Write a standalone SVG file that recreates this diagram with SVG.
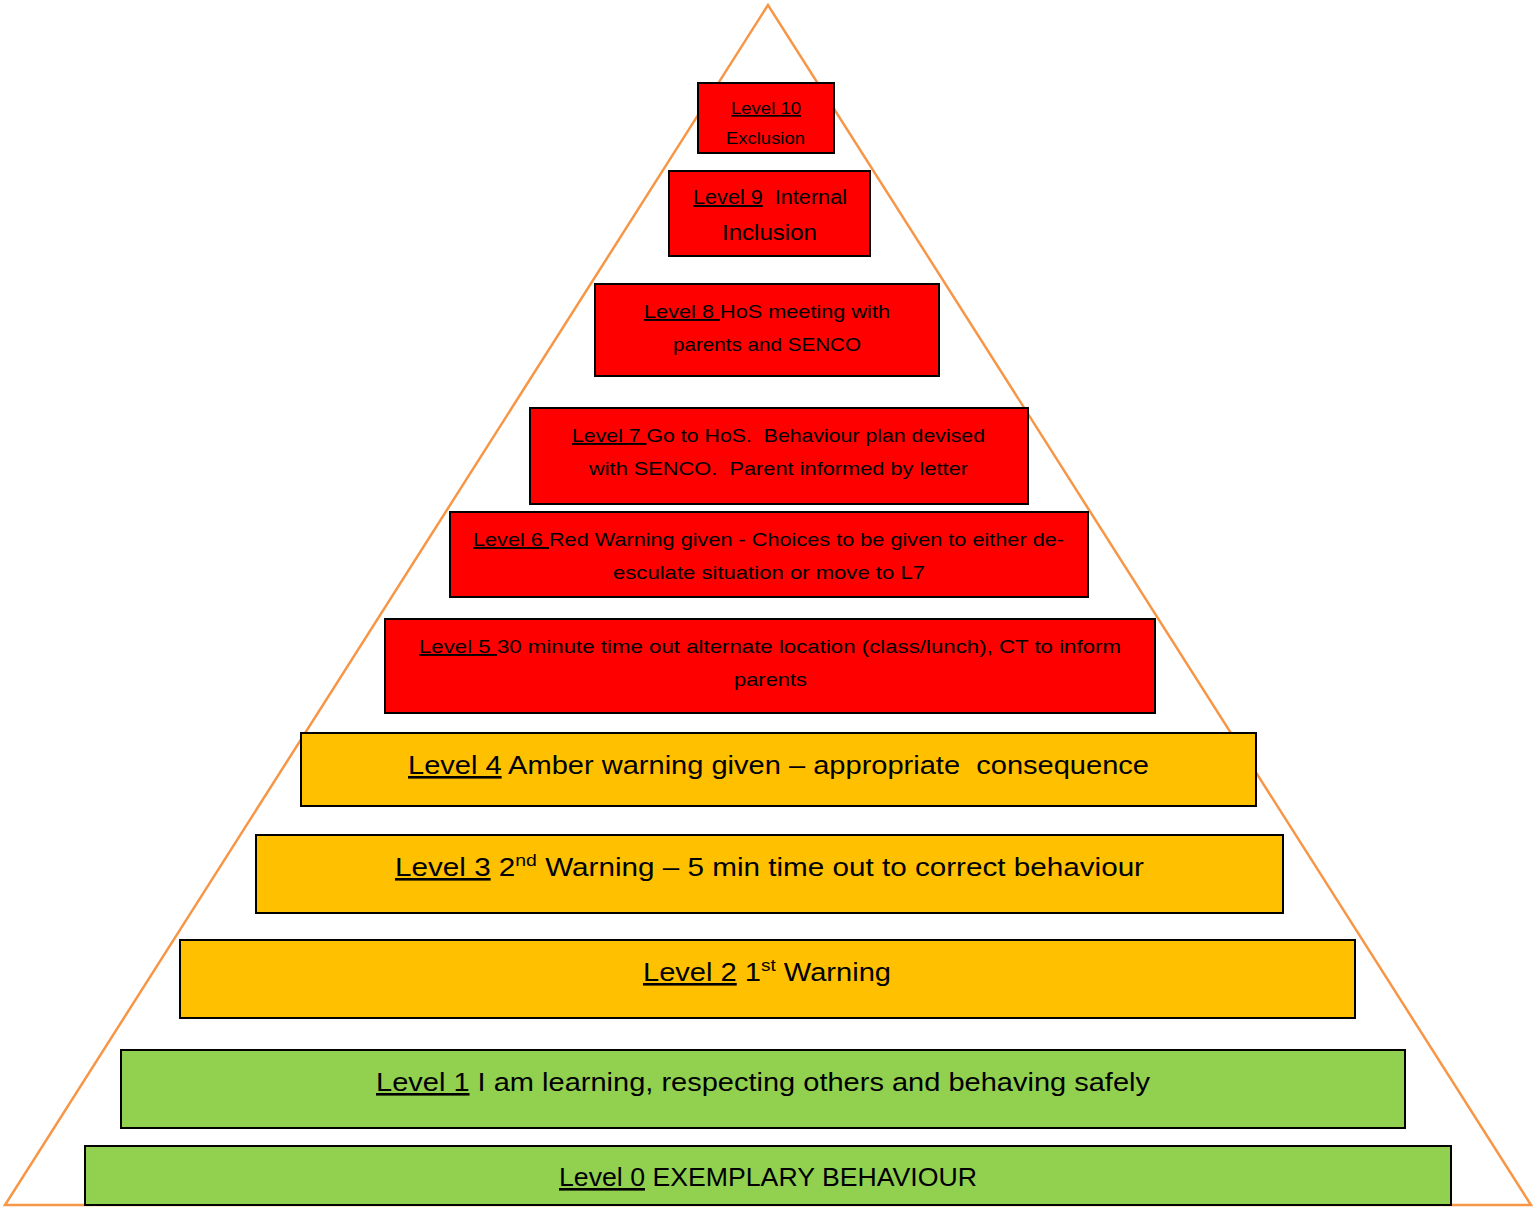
<svg xmlns="http://www.w3.org/2000/svg" width="1535" height="1207" viewBox="0 0 1535 1207" xml:space="preserve">
<style>
.red{fill:#FF0000;stroke:#000;stroke-width:2}
.amb{fill:#FFC000;stroke:#000;stroke-width:2}
.grn{fill:#92D050;stroke:#000;stroke-width:2}
text{font-family:"Liberation Sans",Arial,sans-serif;fill:#000;white-space:pre}
.s{font-size:19px}
.m{font-size:20px}
.l{font-size:26px}
.u{text-decoration:underline}
</style>
<rect x="0" y="0" width="1535" height="1207" fill="#fff"/>
<g id="pyramid"><polygon points="768,5 5,1205 1531,1205" fill="none" stroke="#F79646" stroke-width="2.5"/></g>
<g id="level10"><rect class="red" x="698" y="83" width="136" height="70"/><text x="731" y="114" textLength="70" lengthAdjust="spacingAndGlyphs" style="font-size:17px"><tspan class="u">Level 10</tspan></text><text x="726" y="144" textLength="79" lengthAdjust="spacingAndGlyphs" style="font-size:17px">Exclusion</text></g>
<g id="level9"><rect class="red" x="669" y="171" width="201" height="85"/><text class="m" x="693" y="204" textLength="154" lengthAdjust="spacingAndGlyphs"><tspan class="u">Level 9</tspan>  Internal</text><text x="722" y="240" textLength="95" lengthAdjust="spacingAndGlyphs" style="font-size:22px">Inclusion</text></g>
<g id="level8"><rect class="red" x="595" y="284" width="344" height="92"/><text class="s" x="644" y="318" textLength="246" lengthAdjust="spacingAndGlyphs"><tspan class="u">Level 8 </tspan>HoS meeting with</text><text class="s" x="673" y="351" textLength="188" lengthAdjust="spacingAndGlyphs">parents and SENCO</text></g>
<g id="level7"><rect class="red" x="530" y="408" width="498" height="96"/><text class="s" x="572" y="442" textLength="413" lengthAdjust="spacingAndGlyphs"><tspan class="u">Level 7 </tspan>Go to HoS.  Behaviour plan devised</text><text class="s" x="589" y="475" textLength="379" lengthAdjust="spacingAndGlyphs">with SENCO.  Parent informed by letter</text></g>
<g id="level6"><rect class="red" x="450" y="512" width="638" height="85"/><text class="s" x="473" y="546" textLength="591" lengthAdjust="spacingAndGlyphs"><tspan class="u">Level 6 </tspan>Red Warning given - Choices to be given to either de-</text><text class="s" x="613" y="579" textLength="312" lengthAdjust="spacingAndGlyphs">esculate situation or move to L7</text></g>
<g id="level5"><rect class="red" x="385" y="619" width="770" height="94"/><text class="s" x="419" y="653" textLength="702" lengthAdjust="spacingAndGlyphs"><tspan class="u">Level 5 </tspan>30 minute time out alternate location (class/lunch), CT to inform</text><text class="s" x="734" y="686" textLength="73" lengthAdjust="spacingAndGlyphs">parents</text></g>
<g id="level4"><rect class="amb" x="301" y="733" width="955" height="73"/><text class="l" x="408" y="774" textLength="741" lengthAdjust="spacingAndGlyphs"><tspan class="u">Level 4</tspan> Amber warning given – appropriate  consequence</text></g>
<g id="level3"><rect class="amb" x="256" y="835" width="1027" height="78"/><text class="l" x="395" y="876" textLength="749" lengthAdjust="spacingAndGlyphs"><tspan class="u">Level 3</tspan> 2<tspan dy="-10" style="font-size:17px">nd</tspan><tspan dy="10"> Warning – 5 min time out to correct behaviour</tspan></text></g>
<g id="level2"><rect class="amb" x="180" y="940" width="1175" height="78"/><text class="l" x="643" y="981" textLength="248" lengthAdjust="spacingAndGlyphs"><tspan class="u">Level 2</tspan> 1<tspan dy="-10" style="font-size:17px">st</tspan><tspan dy="10"> Warning</tspan></text></g>
<g id="level1"><rect class="grn" x="121" y="1050" width="1284" height="78"/><text class="l" x="376" y="1091" textLength="774" lengthAdjust="spacingAndGlyphs"><tspan class="u">Level 1</tspan> I am learning, respecting others and behaving safely</text></g>
<g id="level0"><rect class="grn" x="85" y="1146" width="1366" height="59"/><text class="l" x="559" y="1186" textLength="418" lengthAdjust="spacingAndGlyphs"><tspan class="u">Level 0</tspan> EXEMPLARY BEHAVIOUR</text></g>
<g id="connectors"></g>
</svg>
